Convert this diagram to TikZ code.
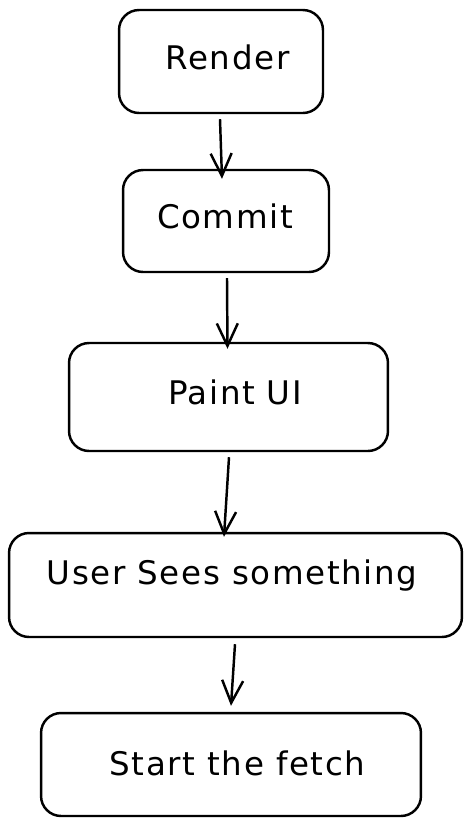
\documentclass[tikz,border=0pt]{standalone}
\usepackage{fontspec}
\setmainfont[LetterSpace=5]{DejaVu Sans}
\usepackage{tikz}
\usetikzlibrary{calc,arrows.meta}

\begin{document}
\begin{tikzpicture}[x=0.02cm,y=-0.02cm,
  box/.style={draw,line width=1.4pt,rounded corners=0.4cm,inner sep=0pt},
  lbl/.style={anchor=base,font=\fontsize{18.5}{22}\selectfont},
  arr/.style={line width=1.4pt,-{Straight Barb[length=0.45cm,width=0.42cm,line width=1.4pt]}}]
\useasboundingbox (0,0) rectangle (471,826);
\node[box,minimum width=4.08cm,minimum height=2.06cm] (render) at (221,61.5) {};
\node[box,minimum width=4.12cm,minimum height=2.04cm] (commit) at (226,221) {};
\node[box,minimum width=6.38cm,minimum height=2.16cm] (paint) at (228.5,397) {};
\node[box,minimum width=9.06cm,minimum height=2.08cm] (user) at (235.5,585) {};
\node[box,minimum width=7.6cm,minimum height=2.06cm] (start) at (231,764.5) {};
\node[lbl] (renderlbl) at (227.5,69) {Render};
\node[lbl] (commitlbl) at (225,228) {Commit};
\node[lbl] (paintlbl) at (235,404) {Paint UI};
\node[lbl] (userlbl) at (232,584) {User Sees something};
\node[lbl] (startlbl) at (237.5,775) {Start the fetch};
\draw[arr] ($(render.south)+(-1,5)$) -- ($(commit.north)+(-4,10)$);
\draw[arr] ($(commit.south)+(1,5)$) -- ($(paint.north)+(-1,7)$);
\draw[arr] ($(paint.south)+(0.5,5)$) -- ($(user.north)+(-11.5,5)$);
\draw[arr] ($(user.south)+(-0.5,6)$) -- ($(start.north)+(0,-6)$);
\end{tikzpicture}
\end{document}
